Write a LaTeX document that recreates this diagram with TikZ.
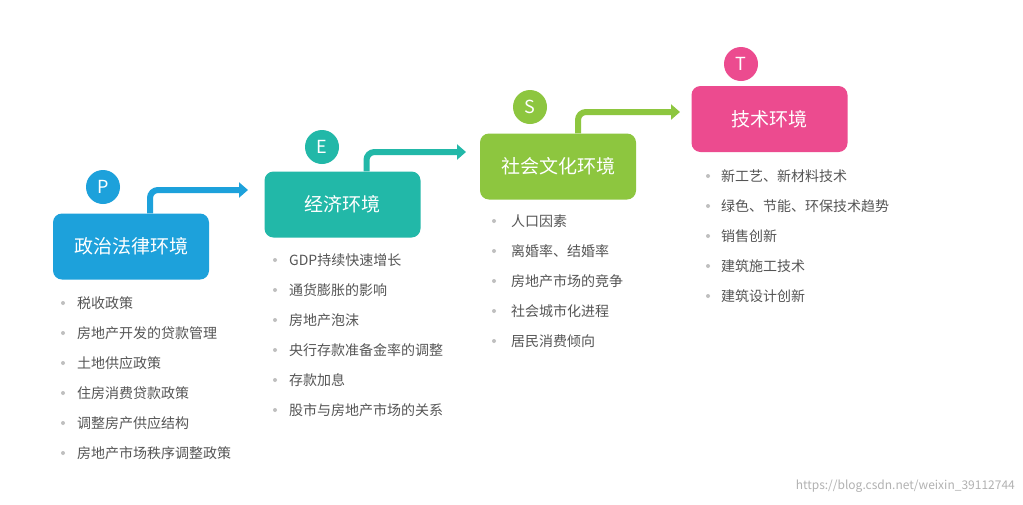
\documentclass[tikz,border=0pt]{standalone}
\usepackage{fontspec}
\setmainfont{Noto Sans CJK SC}
\usetikzlibrary{arrows.meta}
\definecolor{cP}{HTML}{1DA1DB}
\definecolor{cE}{HTML}{22B8A8}
\definecolor{cS}{HTML}{8DC63F}
\definecolor{cT}{HTML}{EC4B8F}
\definecolor{txt}{HTML}{555555}
\begin{document}
\begin{tikzpicture}[x=1pt,y=-1pt,
  box/.style={rounded corners=9pt,minimum width=156pt,minimum height=66pt,text=white,font=\fontsize{19}{22}\selectfont,inner sep=0pt},
  badge/.style={circle,minimum size=34pt,inner sep=0pt,text=white,font=\fontsize{18}{20}\selectfont},
  flow/.style={line width=6pt,rounded corners=8pt,-{Triangle[length=9pt,width=15pt]}},
  item/.style={anchor=west,text=txt,font=\fontsize{14}{16}\selectfont,inner sep=0pt},
  dot/.style={circle,fill=gray!50,minimum size=4pt,inner sep=0pt}]
\useasboundingbox (0,0) rectangle (1023,504);
\fill[white] (0,0) rectangle (1023,504);
% boxes
\node[box,fill=cP] (bP) at (131,246.5) {政治法律环境};
\node[box,fill=cE] (bE) at (342.5,204.5) {经济环境};
\node[box,fill=cS] (bS) at (558,166.5) {社会文化环境};
\node[box,fill=cT] (bT) at (769.5,119) {技术环境};
\node[badge,fill=cP] (cp) at (103,187) {P};
\node[badge,fill=cE] (ce) at (322,147) {E};
\node[badge,fill=cS] (cs) at (530,107) {S};
\node[badge,fill=cT] (ct) at (741,64) {T};
\coordinate (aP) at (248,190);
\coordinate (aE) at (466,152);
\coordinate (aS) at (680,112);
\draw[flow,cP] ([xshift=19pt]bP.north) |- (aP);
\draw[flow,cE] ([xshift=24pt]bE.north) |- (aE);
\draw[flow,cS] ([xshift=20pt]bS.north) |- (aS);
% lists
\foreach \t [count=\i from 0] in {税收政策,房地产开发的贷款管理,土地供应政策,住房消费贷款政策,调整房产供应结构,房地产市场秩序调整政策}
  {\node[dot] (dP\i) at (63,303+30*\i) {}; \node[item] (tP\i) at (77,303+30*\i) {\t};}
\foreach \t [count=\i from 0] in {GDP持续快速增长,通货膨胀的影响,房地产泡沫,央行存款准备金率的调整,存款加息,股市与房地产市场的关系}
  {\node[dot] (dE\i) at (275,260+30*\i) {}; \node[item] (tE\i) at (289,260+30*\i) {\t};}
\foreach \t [count=\i from 0] in {人口因素,离婚率、结婚率,房地产市场的竞争,社会城市化进程,居民消费倾向}
  {\node[dot] (dS\i) at (494,221+30*\i) {}; \node[item] (tS\i) at (511,221+30*\i) {\t};}
\foreach \t [count=\i from 0] in {新工艺、新材料技术,绿色、节能、环保技术趋势,销售创新,建筑施工技术,建筑设计创新}
  {\node[dot] (dT\i) at (708,176+30*\i) {}; \node[item] (tT\i) at (721,176+30*\i) {\t};}
\node[anchor=east,text=gray!60,font=\fontsize{12}{14}\selectfont,inner sep=0pt] (wm) at (1015,486) {https://blog.csdn.net/weixin\_39112744};
\end{tikzpicture}
\end{document}
